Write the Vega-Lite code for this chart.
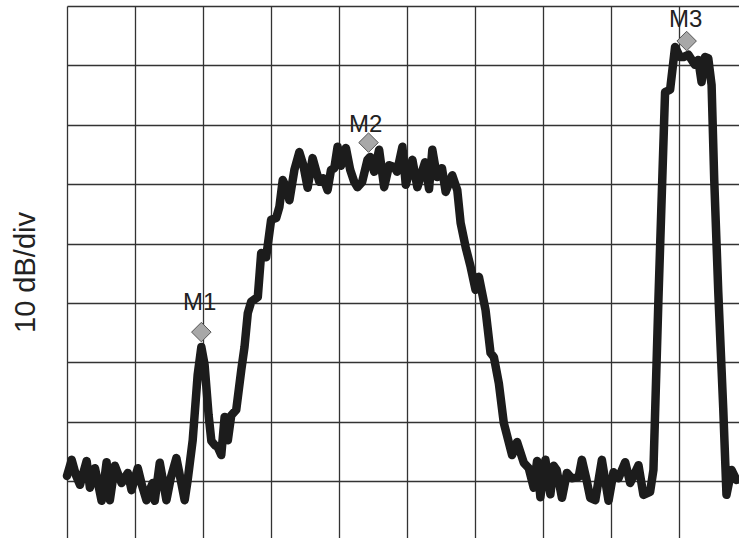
{
  "$schema": "https://vega.github.io/schema/vega-lite/v6.json",
  "width": 672,
  "height": 532,
  "autosize": {"type": "none"},
  "padding": {"left": 67, "top": 6, "right": 0, "bottom": 0},
  "background": "white",
  "config": {"view": {"stroke": null}},
  "datasets": {
    "trace": [
      {"f": 0, "dB": -79.1}, {"f": 0.69, "dB": -76.4}, {"f": 1.32, "dB": -79.0}, {"f": 1.91, "dB": -80.6},
      {"f": 2.89, "dB": -76.6}, {"f": 3.37, "dB": -81.1}, {"f": 4.11, "dB": -77.8}, {"f": 5.09, "dB": -83.3},
      {"f": 5.82, "dB": -76.8}, {"f": 6.30, "dB": -83.2}, {"f": 7.04, "dB": -77.4}, {"f": 8.02, "dB": -80.3},
      {"f": 8.94, "dB": -78.6}, {"f": 9.49, "dB": -81.5}, {"f": 10.41, "dB": -77.8}, {"f": 11.00, "dB": -80.6},
      {"f": 11.69, "dB": -83.2}, {"f": 12.17, "dB": -81.5}, {"f": 12.61, "dB": -80.3}, {"f": 12.90, "dB": -83.3},
      {"f": 13.64, "dB": -76.9}, {"f": 14.62, "dB": -83.2}, {"f": 15.25, "dB": -79.5}, {"f": 16.08, "dB": -76.1},
      {"f": 16.72, "dB": -79.8}, {"f": 17.30, "dB": -83.2}, {"f": 17.74, "dB": -79.8}, {"f": 18.48, "dB": -73.1},
      {"f": 19.21, "dB": -62.1}, {"f": 19.75, "dB": -57.4}, {"f": 20.23, "dB": -60.4}, {"f": 20.82, "dB": -68.9},
      {"f": 21.22, "dB": -73.2}, {"f": 21.70, "dB": -73.9}, {"f": 22.14, "dB": -74.2}, {"f": 22.68, "dB": -75.6},
      {"f": 23.17, "dB": -69.2}, {"f": 23.65, "dB": -73.1}, {"f": 24.15, "dB": -68.9}, {"f": 24.88, "dB": -68.0},
      {"f": 25.62, "dB": -61.3}, {"f": 26.10, "dB": -57.4}, {"f": 26.58, "dB": -51.7}, {"f": 27.08, "dB": -49.8},
      {"f": 28.05, "dB": -49.0}, {"f": 28.55, "dB": -41.6}, {"f": 29.28, "dB": -42.3}, {"f": 30.01, "dB": -36.0},
      {"f": 30.75, "dB": -35.7}, {"f": 31.23, "dB": -33.8}, {"f": 31.72, "dB": -29.3}, {"f": 32.26, "dB": -30.6},
      {"f": 32.70, "dB": -32.7}, {"f": 33.43, "dB": -27.6}, {"f": 34.16, "dB": -24.6}, {"f": 34.75, "dB": -26.8},
      {"f": 35.38, "dB": -30.6}, {"f": 36.11, "dB": -25.6}, {"f": 36.66, "dB": -27.9}, {"f": 37.10, "dB": -29.6},
      {"f": 37.68, "dB": -29.0}, {"f": 38.31, "dB": -31.0}, {"f": 38.81, "dB": -27.6}, {"f": 39.30, "dB": -27.3},
      {"f": 39.78, "dB": -23.7}, {"f": 40.28, "dB": -26.9}, {"f": 41.01, "dB": -23.9}, {"f": 41.64, "dB": -27.6},
      {"f": 42.23, "dB": -29.6}, {"f": 42.71, "dB": -30.5}, {"f": 43.40, "dB": -29.6}, {"f": 44.18, "dB": -25.9},
      {"f": 44.57, "dB": -25.4}, {"f": 45.16, "dB": -27.9}, {"f": 45.89, "dB": -24.2}, {"f": 46.63, "dB": -30.5},
      {"f": 47.36, "dB": -26.8}, {"f": 48.09, "dB": -27.1}, {"f": 48.53, "dB": -27.9}, {"f": 49.31, "dB": -23.7},
      {"f": 49.81, "dB": -30.1}, {"f": 50.78, "dB": -25.9}, {"f": 51.51, "dB": -30.5}, {"f": 52.20, "dB": -27.9},
      {"f": 52.64, "dB": -26.3}, {"f": 53.23, "dB": -30.8}, {"f": 53.71, "dB": -24.2}, {"f": 54.40, "dB": -28.8},
      {"f": 55.13, "dB": -27.3}, {"f": 55.67, "dB": -31.3}, {"f": 56.64, "dB": -28.5}, {"f": 57.38, "dB": -31.0},
      {"f": 57.87, "dB": -36.5}, {"f": 58.61, "dB": -40.6}, {"f": 59.34, "dB": -43.9}, {"f": 60.07, "dB": -47.8},
      {"f": 60.56, "dB": -45.6}, {"f": 61.54, "dB": -51.2}, {"f": 62.27, "dB": -58.4}, {"f": 62.76, "dB": -59.1},
      {"f": 63.49, "dB": -63.5}, {"f": 64.22, "dB": -70.2}, {"f": 65.44, "dB": -75.6}, {"f": 66.17, "dB": -73.4},
      {"f": 67.16, "dB": -76.9}, {"f": 67.89, "dB": -77.8}, {"f": 68.62, "dB": -81.1}, {"f": 69.11, "dB": -76.6},
      {"f": 69.60, "dB": -82.7}, {"f": 70.34, "dB": -76.4}, {"f": 71.07, "dB": -82.2}, {"f": 71.55, "dB": -77.4},
      {"f": 71.99, "dB": -78.1}, {"f": 72.77, "dB": -82.8}, {"f": 73.50, "dB": -78.6}, {"f": 74.19, "dB": -79.5},
      {"f": 75.22, "dB": -79.3}, {"f": 75.70, "dB": -76.4}, {"f": 76.39, "dB": -79.8}, {"f": 76.93, "dB": -82.8},
      {"f": 77.67, "dB": -83.2}, {"f": 78.64, "dB": -76.4}, {"f": 79.62, "dB": -83.3}, {"f": 80.35, "dB": -78.5},
      {"f": 81.09, "dB": -79.5}, {"f": 82.07, "dB": -76.8}, {"f": 82.80, "dB": -80.3}, {"f": 84.02, "dB": -77.3},
      {"f": 84.75, "dB": -82.3}, {"f": 85.73, "dB": -81.8}, {"f": 86.22, "dB": -78.1}, {"f": 86.95, "dB": -49.5},
      {"f": 87.93, "dB": -14.5}, {"f": 88.67, "dB": -14.1}, {"f": 89.40, "dB": -6.9}, {"f": 90.13, "dB": -8.6},
      {"f": 90.62, "dB": -8.6}, {"f": 91.35, "dB": -8.2}, {"f": 92.33, "dB": -9.9}, {"f": 92.82, "dB": -9.1},
      {"f": 93.30, "dB": -12.8}, {"f": 93.80, "dB": -8.6}, {"f": 94.28, "dB": -8.8}, {"f": 94.77, "dB": -13.3},
      {"f": 95.16, "dB": -29.3}, {"f": 95.75, "dB": -48.1}, {"f": 96.48, "dB": -67.7}, {"f": 96.96, "dB": -82.3},
      {"f": 97.70, "dB": -78.1}, {"f": 98.43, "dB": -79.8}
    ],
    "markers": [
      {"name": "M1", "f": 19.75, "dB": -54.9, "label_f": 19.5, "label_dB": -51.2},
      {"name": "M2", "f": 44.33, "dB": -23.0, "label_f": 43.9, "label_dB": -21.2},
      {"name": "M3", "f": 91.10, "dB": -5.9, "label_f": 90.95, "label_dB": -3.5}
    ]
  },
  "layer": [
    {
      "data": {"name": "trace"},
      "mark": {"type": "line", "color": "#1c1c1c", "strokeWidth": 8.5, "strokeJoin": "round", "strokeCap": "round", "clip": false},
      "encoding": {
        "x": {
          "field": "f", "type": "quantitative",
          "scale": {"domain": [0, 98.8], "nice": false, "zero": false},
          "axis": {"values": [0, 10, 20, 30, 40, 50, 60, 70, 80, 90], "grid": true, "gridColor": "#333333", "gridWidth": 1.3, "gridOpacity": 1, "labels": false, "ticks": false, "domain": false, "title": null}
        },
        "y": {
          "field": "dB", "type": "quantitative",
          "scale": {"domain": [-89.56, 0], "nice": false, "zero": false},
          "axis": {"values": [0, -10, -20, -30, -40, -50, -60, -70, -80], "grid": true, "gridColor": "#333333", "gridWidth": 1.3, "gridOpacity": 1, "labels": false, "ticks": false, "domain": false,
            "title": "10 dB/div", "titleFont": "Liberation Sans", "titleFontSize": 29, "titleFontWeight": "normal", "titleColor": "#222222", "titlePadding": 27}
        }
      }
    },
    {
      "data": {"name": "markers"},
      "mark": {"type": "point", "shape": "diamond", "size": 380, "filled": true, "fill": "#a8a8a8", "stroke": "#555555", "strokeWidth": 1, "opacity": 1},
      "encoding": {
        "x": {"field": "f", "type": "quantitative"},
        "y": {"field": "dB", "type": "quantitative"}
      }
    },
    {
      "data": {"name": "markers"},
      "mark": {"type": "text", "font": "Liberation Sans", "fontSize": 24, "color": "#222222", "baseline": "alphabetic", "align": "center"},
      "encoding": {
        "x": {"field": "label_f", "type": "quantitative"},
        "y": {"field": "label_dB", "type": "quantitative"},
        "text": {"field": "name", "type": "nominal"}
      }
    }
  ]
}
